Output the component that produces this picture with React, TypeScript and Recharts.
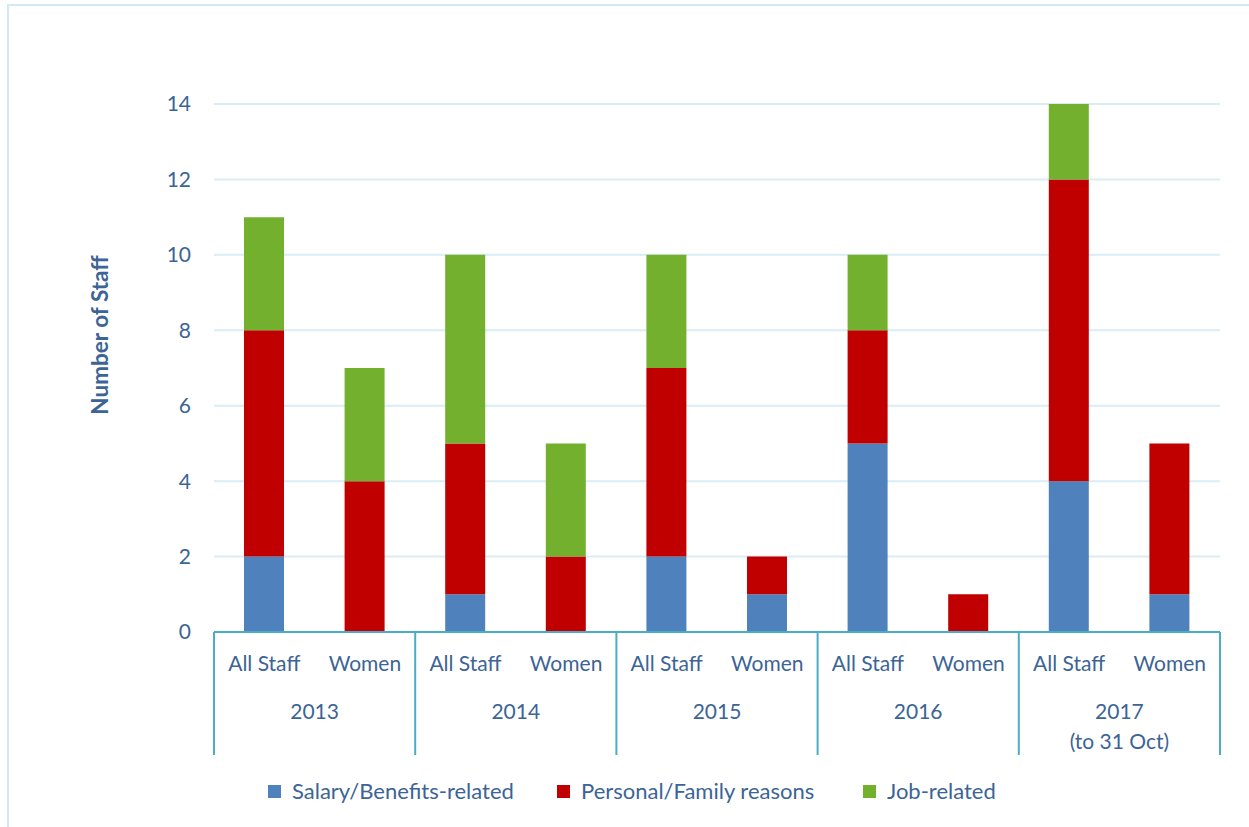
import React from "react";
import { BarChart, Bar, XAxis, YAxis, CartesianGrid } from "recharts";

const groups = ["All Staff", "Women", "All Staff", "Women", "All Staff", "Women", "All Staff", "Women", "All Staff", "Women"];
const years = ["2013", "2013", "2014", "2014", "2015", "2015", "2016", "2016", "2017", "2017"];
const yearNotes = ["", "", "", "", "", "", "", "", "(to 31 Oct)", "(to 31 Oct)"];
const salary = [2, 0, 1, 0, 2, 1, 5, 0, 4, 1];
const personal = [6, 4, 4, 2, 5, 1, 3, 1, 8, 4];
const jobRelated = [3, 3, 5, 3, 3, 0, 2, 0, 2, 0];
const yTicks = [0, 2, 4, 6, 8, 10, 12, 14];

const seriesNames = ["Salary/Benefits-related", "Personal/Family reasons", "Job-related"];
const seriesColors = ["#4F81BD", "#C00000", "#72B02E"];

const data = groups.map((g, i) => ({
  key: `${years[i]}-${g}-${i}`,
  group: g,
  year: years[i],
  note: yearNotes[i],
  salary: salary[i],
  personal: personal[i],
  job: jobRelated[i],
}));

const TEXT = "#3C6496";
const AXIS = "#4BACC6";
const FONT = "Lato, 'Open Sans', sans-serif";

const XTick = (props: any) => {
  const { x, y, payload, index } = props;
  const d = data[index];
  const half = payload.offset || 50.3;
  const top = y;
  const bottom = y + 115;
  const els: any[] = [];
  els.push(
    <text key="g" x={x} y={top + 31} textAnchor="middle" fill={TEXT} fontSize={21} fontFamily={FONT}>
      {d.group}
    </text>
  );
  if (index % 2 === 0) {
    els.push(<line key="l" x1={x - half} x2={x - half} y1={top - 8} y2={bottom} stroke={AXIS} strokeWidth={2} />);
    const cx = x + half;
    els.push(
      <text key="y" x={cx} y={top + 79} textAnchor="middle" fill={TEXT} fontSize={21} fontFamily={FONT}>
        {d.year}
      </text>
    );
    if (d.note) {
      els.push(
        <text key="n" x={cx} y={top + 109} textAnchor="middle" fill={TEXT} fontSize={21} fontFamily={FONT}>
          {d.note}
        </text>
      );
    }
  }
  if (index === data.length - 1) {
    els.push(<line key="r" x1={x + half} x2={x + half} y1={top - 8} y2={bottom} stroke={AXIS} strokeWidth={2} />);
  }
  return <g>{els}</g>;
};

const YLabel = () => (
  <text
    x={108}
    y={335}
    transform="rotate(-90 108 335)"
    textAnchor="middle"
    fill={TEXT}
    fontSize={22.5}
    fontWeight="bold"
    fontFamily={FONT}
  >
    Number of Staff
  </text>
);

export default function App() {
  return (
    <div style={{ position: "absolute", left: 0, top: 0, width: 1249, height: 827, overflow: "hidden", background: "#fff" }}>
      <svg width={1249} height={827} style={{ position: "absolute", left: 0, top: 0 }}>
        <line x1={7} x2={1249} y1={5} y2={5} stroke="#D3E9F2" strokeWidth={2} />
        <line x1={8} x2={8} y1={4} y2={827} stroke="#D3E9F2" strokeWidth={2} />
      </svg>
      <div style={{ position: "absolute", left: 0, top: 0 }}>
        <BarChart
          width={1249}
          height={827}
          data={data}
          margin={{ top: 104, right: 29, bottom: 72, left: 0 }}
          barSize={40}
        >
          <CartesianGrid horizontal vertical={false} stroke="#D9EDF4" strokeWidth={2} />
          <XAxis
            dataKey="key"
            interval={0}
            height={123}
            tickLine={false}
            axisLine={{ stroke: AXIS, strokeWidth: 2 }}
            tick={<XTick />}
          />
          <YAxis
            domain={[0, 14]}
            ticks={yTicks}
            width={214}
            tickSize={0}
            tickMargin={23}
            axisLine={false}
            tickLine={false}
            tick={{ fill: TEXT, fontSize: 21, fontFamily: FONT }}
            label={<YLabel />}
          />
          <Bar dataKey="salary" stackId="a" fill={seriesColors[0]} name={seriesNames[0]} isAnimationActive={false} />
          <Bar dataKey="personal" stackId="a" fill={seriesColors[1]} name={seriesNames[1]} isAnimationActive={false} />
          <Bar dataKey="job" stackId="a" fill={seriesColors[2]} name={seriesNames[2]} isAnimationActive={false} />
        </BarChart>
      </div>
      <div style={{ position: "absolute", top: 778, left: 0, width: 1249, height: 28, fontFamily: FONT, fontSize: 22, color: TEXT }}>
        {seriesNames.map((n, i) => (
          <div key={n} style={{ position: "absolute", left: [268, 557, 863][i], top: 0, display: "flex", alignItems: "center", whiteSpace: "nowrap" }}>
            <span style={{ display: "inline-block", width: 13, height: 13, background: seriesColors[i], marginRight: 11 }} />
            <span style={{ lineHeight: "26px" }}>{n}</span>
          </div>
        ))}
      </div>
    </div>
  );
}
